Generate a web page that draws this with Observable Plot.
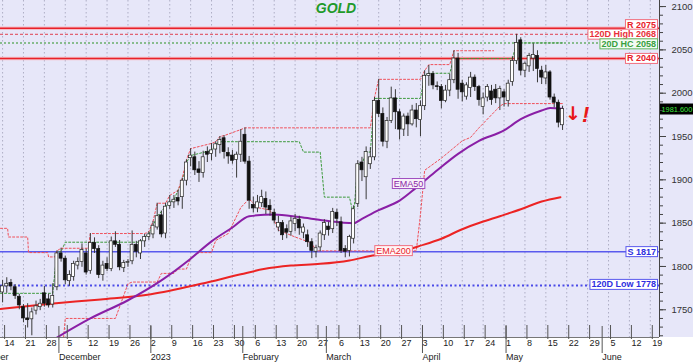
<!DOCTYPE html>
<html><head><meta charset="utf-8">
<script src="https://cdn.jsdelivr.net/npm/d3@7"></script>
<script src="https://cdn.jsdelivr.net/npm/@observablehq/plot@0.6"></script>
<style>
html,body{margin:0;padding:0;background:#fff;}
#chart{width:693px;height:364px;overflow:hidden;background:linear-gradient(to bottom,#e7e7f9 0,#e7e7f9 337px,#ffffff 337px);}
#chart svg{display:block;}
</style></head><body><div id="chart"></div>
<script>
// ---- daily candles, trading-day index 0 = 14 Nov 2022 ... 134 = 19 May 2023 ----
const opens  = [1770,1777,1781,1776,1765,1753,1740,1739,1749,1753,1769,1762,1756,1776,1815,1809,1783,1788,1801,1805,1815,1795,1827,1820,1790,1803,1797,1829,1825,1798,1804,1806,1825,1815,1829,1834,1837,1845,1859,1838,1870,1874,1879,1880,1899,1925,1926,1912,1908,1932,1930,1935,1940,1948,1931,1928,1923,1929,1952,1921,1871,1867,1873,1878,1870,1862,1845,1850,1843,1840,1849,1854,1839,1836,1828,1817,1822,1836,1846,1843,1862,1851,1820,1818,1832,1872,1920,1903,1918,1926,1991,1976,1944,1968,1994,1978,1958,1973,1964,1980,1969,1985,2020,2022,2008,2007,1991,2003,2015,2040,2011,1996,2006,2018,2007,1984,1995,2002,2004,1994,2001,1991,2013,2037,2061,2026,2031,2040,2043,2026,2017,2024,1995,1989,1963];
const highs  = [1784,1787,1785,1779,1768,1756,1757,1752,1760,1762,1777,1768,1780,1818,1821,1812,1795,1806,1810,1826,1820,1838,1833,1824,1806,1810,1834,1840,1830,1807,1808,1841,1829,1831,1837,1840,1852,1873,1864,1873,1882,1882,1888,1902,1923,1936,1932,1921,1933,1938,1942,1944,1950,1951,1937,1934,1932,1958,1960,1927,1880,1882,1888,1886,1877,1866,1858,1853,1848,1857,1860,1858,1849,1842,1832,1824,1841,1854,1851,1867,1866,1857,1824,1836,1870,1922,1926,1938,1937,1995,2016,1983,1972,2007,2004,1981,1976,1977,1986,1988,1991,2026,2032,2025,2013,2010,2009,2022,2049,2046,2015,2012,2024,2021,2009,2000,2010,2009,2010,2008,2004,2015,2042,2068,2064,2036,2046,2057,2049,2031,2032,2026,1999,1992,1985];
const lows   = [1758,1769,1772,1762,1750,1735,1729,1720,1744,1749,1753,1752,1752,1772,1805,1779,1777,1783,1796,1799,1790,1791,1815,1786,1783,1794,1794,1822,1795,1793,1799,1802,1810,1808,1822,1830,1832,1842,1833,1832,1866,1867,1870,1866,1893,1915,1905,1897,1902,1920,1922,1926,1930,1924,1918,1918,1902,1920,1918,1866,1862,1862,1868,1860,1858,1849,1840,1830,1832,1835,1840,1836,1832,1822,1809,1810,1817,1830,1835,1838,1846,1815,1810,1811,1826,1868,1898,1877,1912,1922,1972,1938,1936,1965,1958,1946,1950,1950,1962,1960,1950,1980,2008,2004,2003,1982,1989,1996,2011,1993,1990,1992,1995,2002,1985,1975,1990,1986,1988,1980,1984,1984,2008,2033,2020,2018,2024,2025,2012,2010,2010,1992,1983,1960,1957];
const closes = [1777,1780,1777,1766,1755,1740,1738,1747,1754,1757,1757,1755,1766,1815,1809,1784,1790,1803,1805,1819,1793,1827,1820,1790,1801,1797,1829,1825,1799,1804,1805,1825,1817,1829,1834,1837,1847,1858,1837,1869,1874,1877,1875,1899,1920,1928,1911,1908,1926,1929,1934,1941,1946,1932,1927,1922,1929,1944,1921,1876,1867,1874,1880,1868,1865,1853,1850,1836,1839,1852,1855,1844,1845,1828,1818,1821,1838,1850,1842,1863,1855,1818,1817,1834,1866,1918,1911,1932,1926,1991,1976,1944,1968,1994,1978,1958,1973,1964,1980,1970,1985,2020,2022,2009,2007,1991,2003,2015,2040,2004,2001,2009,2018,2007,1992,1994,2007,1992,1994,2005,1995,2011,2037,2058,2026,2034,2043,2044,2028,2018,2024,1995,1989,1966,1981.6];

// ---- moving averages read at sample days ----
const ema50Idx  = [13,21,30,38,45,50,55,59,65,71,77,84,86,90,95,99,104,109,114,120,124,129,131,134];
const ema50     = [1718,1740,1761,1784,1809,1829,1845,1858,1860,1857,1853,1850,1855,1865,1876,1891,1911,1930,1945,1957,1970,1980,1983,1982];
const ema200Idx = [-0.5,11.5,23.5,35.5,47.5,57,62.5,69,76,83,88,95,100,105,110,114.5,119,124,129,133.5];
const ema200    = [1751,1757,1762,1768,1780,1791,1797,1801,1803,1807,1812,1817,1824,1832,1843,1851,1858,1866,1875,1880];

// ---- 20-day highest close (green dotted), breakpoints ----
const hcIdx = [-0.5,12,13,14,15,33,34,35,36,37,39,40,41,43,44,45,50,51,52,71,72,76,77,83,84,85,86,87,88,89,100,101,102,107,108,122,123,134];
const hcVal = [1769,1769,1817,1817,1828,1828,1834,1837,1847,1858,1869,1874,1877,1899,1920,1928,1934,1941,1944,1944,1932,1932,1880,1880,1859,1918,1918,1932,1932,1994,1994,2020,2023,2023,2040,2040,2058,2058];
// ---- upper channel (red dotted) ----
const hiIdx = [-0.5,1.2,1.4,6,6.2,10.8,11,12.5,13,14,20.5,21,34,35,36,37,39,40,42,43,44,45,50,51,52,53,57,58,88,89,90,100,101,102,107,108,117.5];
const hiVal = [1844,1844,1834,1834,1816,1816,1811,1811,1818,1821,1821,1838,1838,1840,1852,1873,1873,1882,1888,1902,1923,1936,1942,1944,1950,1951,1958,1960,1960,1995,2016,2016,2026,2033,2033,2049,2049];
// ---- lower channel (red dotted) ----
const loIdx = [14.6,15,26,27,30,31,37,38,41,42,44,45,47,50,51,54,57,59,61,64,66,70,74,75,99,100,101,105,110,112,114,117,119,120,134];
const loVal = [1718,1740,1740,1740,1780,1782,1782,1792,1792,1797,1797,1810,1816,1816,1830,1838,1868,1878,1868,1865,1842,1834,1827,1818,1818,1860,1911,1925,1945,1949,1960,1975,1985,1988,1988];

// ---- horizontal levels ----
const levelValues = [2075, 2068, 2058, 2040, 1817, 1778];
const levelLabels = ["R 2075", "120D High 2068", "20D HC 2058", "R 2040", "S 1817", "120D Low 1778"];
const levelKinds  = ["R", "H", "HC", "R", "S", "L"];

// ---- axis labels ----
const dayTicks  = d3.range(0, 156, 5);
const dayLabels = ["14","21","28","5","12","19","26","2","9","16","23","30","6","13","20","27","6","13","20","27","3","10","17","24","1","8","15","22","29","5","12","19"];
const monthStarts = [-9, 13, 35, 57, 77, 100, 120, 143];
const monthLabels = ["November","December","2023","February","March","April","May","June"];
const yMajor = [1750,1800,1850,1900,1950,2000,2050,2100];
const title = "GOLD";

// ---------------------------------------------------------------
const candles = closes.map((c, i) => ({i, o: opens[i], h: highs[i], l: lows[i], c}));
const up = candles.filter(d => d.c >= d.o), down = candles.filter(d => d.c < d.o);
const pts = (idx, val) => idx.map((i, k) => ({i, v: val[k]}));
const e50 = pts(ema50Idx, ema50), e200 = pts(ema200Idx, ema200);
const levels = levelValues.map((v, k) => ({v, label: levelLabels[k], kind: levelKinds[k]}));
const last = candles[candles.length - 1];
const dayMap = new Map(dayTicks.map((t, k) => [t, dayLabels[k]]));
const monMap = new Map(monthStarts.map((t, k) => [t, monthLabels[k]]));

const XMIN = -0.5, XMAX = 157.2;
const F = "Liberation Sans, Arial, Helvetica, sans-serif";
const lvlColor = {R: "#e8202a", H: "#e8303a", HC: "#38a040", S: "#2e2ee0", L: "#2e2ee0"};
const lvlBorder = {R: "#f07080", H: "#f07080", HC: "#60b860", S: "#5a5aee", L: "#5a5aee"};
const nudge = {"R 2075": -3.5, "20D HC 2058": 1, "120D Low 1778": -1};

const plot = Plot.plot({
  width: 693, height: 364,
  marginLeft: 0, marginRight: 34, marginTop: 0, marginBottom: 27,
  x: {type: "linear", domain: [XMIN, XMAX], label: null},
  y: {type: "linear", domain: [1718, 2107], label: null},
  style: {background: "transparent", fontFamily: F, color: "#222", overflow: "hidden"},
  marks: [
    Plot.gridX(dayTicks, {stroke: "#a4a4bc", strokeOpacity: 0.85, strokeDasharray: "1.5,2.5"}),
    // level lines
    Plot.ruleY(levels.filter(d => d.kind === "R"), {y: "v", stroke: "#f5bcc6", strokeWidth: 3.5}),
    Plot.ruleY(levels.filter(d => d.kind === "R"), {y: "v", stroke: "#e8202a", strokeWidth: 1.4}),
    Plot.ruleY(levels.filter(d => d.kind === "H"), {y: "v", stroke: "#e04050", strokeWidth: 1, strokeDasharray: "3,2"}),
    Plot.ruleY(levels.filter(d => d.kind === "HC"), {y: "v", stroke: "#6aae6a", strokeWidth: 1.6, strokeDasharray: "2,2"}),
    Plot.ruleY(levels.filter(d => d.kind === "S"), {y: "v", stroke: "#5a5aee", strokeWidth: 1.6}),
    Plot.ruleY(levels.filter(d => d.kind === "L"), {y: "v", stroke: "#4a4ae8", strokeWidth: 1.8, strokeDasharray: "2,2.5"}),
    // channels
    Plot.line(pts(hcIdx, hcVal), {x: "i", y: "v", stroke: "#3c9a3c", strokeWidth: 1, strokeDasharray: "2,2", clip: true}),
    Plot.line(pts(hiIdx, hiVal), {x: "i", y: "v", stroke: "#f0505a", strokeWidth: 1, strokeDasharray: "2,2", clip: true}),
    Plot.line(pts(loIdx, loVal), {x: "i", y: "v", stroke: "#f0505a", strokeWidth: 1, strokeDasharray: "2,2", clip: true}),
    // EMAs
    Plot.line(e200, {x: "i", y: "v", stroke: "#ec2424", strokeWidth: 2, curve: "monotone-x", clip: true}),
    Plot.line(e50, {x: "i", y: "v", stroke: "#8a1fa6", strokeWidth: 2, curve: "monotone-x", clip: true}),
    // candles
    Plot.ruleX(candles, {x: "i", y1: "l", y2: "h", stroke: "#3a3a3a", strokeWidth: 1}),
    Plot.rect(up, {x1: d => d.i - 0.36, x2: d => d.i + 0.36, y1: "o", y2: "c", fill: "#ffffff", stroke: "#222", strokeWidth: 0.7}),
    Plot.rect(down, {x1: d => d.i - 0.36, x2: d => d.i + 0.36, y1: "o", y2: "c", fill: "#111111", stroke: "#111", strokeWidth: 0.7}),
    // EMA labels
    Plot.text([e50[14]], {x: "i", y: "v", text: () => "EMA50", dx: 9, dy: -17, fill: "#8a1fa6", fontSize: 9, fontFamily: F, ariaDescription: "ema50-label"}),
    Plot.text([e200[11]], {x: "i", y: "v", text: () => "EMA200", dx: -6, dy: -1, fill: "#e8202a", fontSize: 9, fontFamily: F, ariaDescription: "ema200-label"}),
    // level labels
    Plot.text(levels, {x: () => XMAX, y: "v", text: "label", textAnchor: "end", dx: -3.5,
      fill: d => lvlColor[d.kind], fontSize: 9, fontWeight: "bold", fontFamily: F, ariaDescription: "level-labels"}),
    // last price tag
    Plot.text([last], {x: () => XMAX, y: "c", text: d => d.c.toFixed(3), textAnchor: "start", dx: 2, fill: "#3ee63e", fontSize: 7.4, fontFamily: F, ariaDescription: "price-tag"}),
    // warning marks
    Plot.text([last], {x: "i", y: "c", text: () => "↓", dx: 10.5, dy: 5, fill: "#e81818", fontSize: 19, fontWeight: "bold", fontFamily: "DejaVu Sans"}),
    Plot.text([last], {x: "i", y: "c", text: () => "!", dx: 23, dy: 5.5, fill: "#e81818", fontSize: 22, fontWeight: "bold", fontStyle: "italic", fontFamily: F}),
    // title
    Plot.text([title], {frameAnchor: "top", dx: 6, dy: 3, fill: "#1f9a2a", fontSize: 14, fontWeight: "bold", fontStyle: "italic", fontFamily: F}),
    // right axis
    Plot.ruleX([XMAX], {stroke: "#444", strokeWidth: 1}),
    Plot.axisY(d3.range(1720, 2107, 10), {anchor: "right", tickSize: 3, tickFormat: () => "", stroke: "#444", label: null}),
    Plot.axisY(yMajor, {anchor: "right", tickSize: 6, tickPadding: 6, tickFormat: d => String(d), fontSize: 9.5, fill: "#333", stroke: "#444", label: null}),
    // bottom axis: day row and month row
    Plot.ruleY([1718], {stroke: "#777"}),
    Plot.axisX(dayTicks, {anchor: "bottom", tickSize: 14, tickPadding: 0, dy: -12, dx: 2, textAnchor: "start",
      tickFormat: d => dayMap.get(d), fontSize: 9, fill: "#222", stroke: "#555", label: null}),
    Plot.axisX(monthStarts, {anchor: "bottom", tickSize: 27, tickPadding: 0, dy: -11, dx: 2, textAnchor: "start",
      tickFormat: d => monMap.get(d), fontSize: 9, fill: "#222", stroke: "#555", label: null})
  ]
});
document.getElementById("chart").appendChild(plot);

// boxes behind labels (drawn around the texts Plot placed)
const svg = d3.select(plot);
function boxify(desc, styleFn, pad) {
  svg.selectAll(`g[aria-description="${desc}"] text`).each(function(d, k) {
    const el = this;
    const bb = el.getBBox();
    const st = styleFn(k);
    const r = d3.select(el.parentNode).insert("rect", () => el)
      .attr("x", bb.x - pad[0]).attr("y", bb.y - pad[1])
      .attr("width", bb.width + 2 * pad[0]).attr("height", bb.height + 2 * pad[1])
      .attr("fill", st.fill).attr("stroke", st.stroke).attr("stroke-width", st.sw || 1);
    const tr = el.getAttribute("transform");
    if (tr) r.attr("transform", tr);
  });
}
try {
  svg.selectAll('g[aria-description="level-labels"] text').each(function(d, k) {
    const n = nudge[levelLabels[k]] || 0;
    if (n) {
      const tr = this.getAttribute("transform") || "";
      this.setAttribute("transform", `translate(0,${n}) ` + tr);
    }
  });
  boxify("level-labels", k => ({fill: levelKinds[k] === "HC" ? "#f3fbf3" : "#ffffff", stroke: lvlBorder[levelKinds[k]]}), [1.5, 0]);
  boxify("ema50-label", () => ({fill: "#f7f0fa", stroke: "#a050c0"}), [1.5, 0]);
  boxify("ema200-label", () => ({fill: "#fff6f6", stroke: "#f07080"}), [1.5, 0]);
  boxify("price-tag", () => ({fill: "#000", stroke: "#000"}), [1, 0.5]);
} catch (e) {
  svg.append("text").attr("x", 10).attr("y", 20).attr("fill", "red").text("ERR " + e.message);
}
</script></body></html>
